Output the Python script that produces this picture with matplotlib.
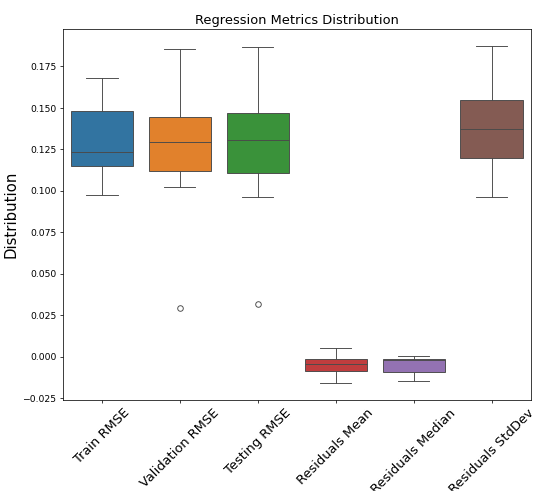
import matplotlib
matplotlib.use("Agg")
import matplotlib.pyplot as plt

categories = ["Train RMSE", "Validation RMSE", "Testing RMSE",
              "Residuals Mean", "Residuals Median", "Residuals StdDev"]
whisker_low = [0.0973, 0.1024, 0.0961, -0.0157, -0.0146, 0.0964]
q1 = [0.1149, 0.1121, 0.1105, -0.0086, -0.0090, 0.1199]
median = [0.1232, 0.1292, 0.1308, -0.0046, -0.0018, 0.1372]
q3 = [0.1479, 0.1443, 0.1467, -0.0012, -0.0012, 0.1547]
whisker_high = [0.1679, 0.1856, 0.1868, 0.0052, 0.0002, 0.1872]
outliers = [[], [0.0293], [0.0316], [], [], []]

colors = ["#3274a1", "#e1812c", "#3a923a", "#c03d3e", "#9372b2", "#845b53"]
line_color = "#4a4a4a"

stats = []
for i, c in enumerate(categories):
    stats.append(dict(label=c, whislo=whisker_low[i], q1=q1[i], med=median[i],
                      q3=q3[i], whishi=whisker_high[i], fliers=outliers[i]))

fig = plt.figure(figsize=(8, 7.33), dpi=67)
ax = fig.add_axes([0.1175, 0.186, 0.8725, 0.754])

lw = 1.0
bp = ax.bxp(stats, positions=range(len(categories)), widths=0.8,
            patch_artist=True, capwidths=0.4,
            boxprops=dict(edgecolor=line_color, linewidth=lw),
            medianprops=dict(color=line_color, linewidth=lw),
            whiskerprops=dict(color=line_color, linewidth=lw),
            capprops=dict(color=line_color, linewidth=lw),
            flierprops=dict(marker="o", markerfacecolor="none",
                            markeredgecolor=line_color, markersize=6,
                            markeredgewidth=1.0))
for patch, col in zip(bp["boxes"], colors):
    patch.set_facecolor(col)

ax.set_xlim(-0.5, len(categories) - 0.5)
ax.set_xticks(range(len(categories)))
ax.set_xticklabels(categories, rotation=45, fontsize=14)
ax.tick_params(axis="y", labelsize=10)
ax.set_ylabel("Distribution", fontsize=16)
ax.set_title("Regression Metrics Distribution", fontsize=14)

fig.savefig("out.png", dpi=67)
